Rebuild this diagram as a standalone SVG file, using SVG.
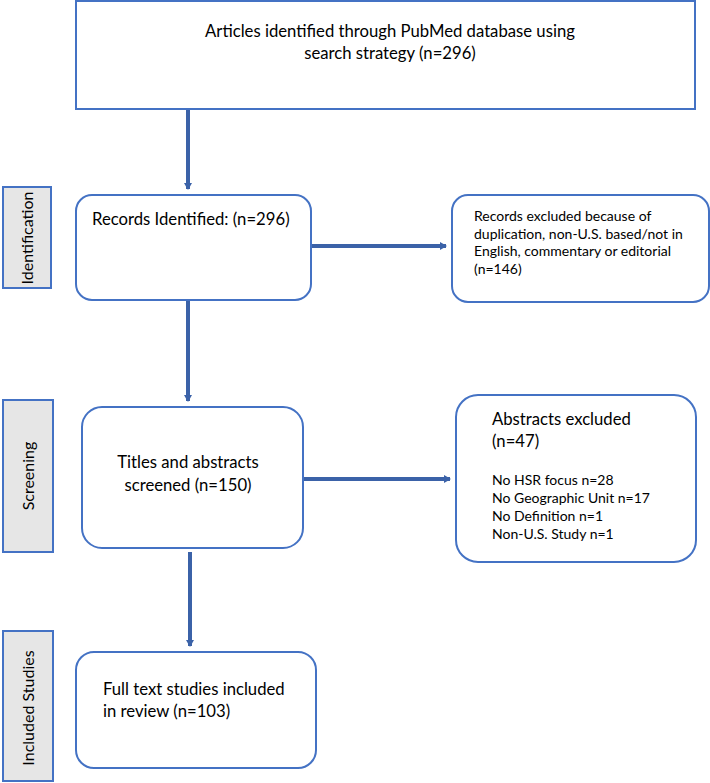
<svg xmlns="http://www.w3.org/2000/svg" width="710" height="783" viewBox="0 0 710 783">
<defs>
<marker id="ah" markerWidth="8" markerHeight="8" refX="6" refY="4" orient="auto" markerUnits="userSpaceOnUse">
<path d="M0,0 L7,4 L0,8 Z" fill="#3B62A8"/>
</marker>
</defs>
<style>
.box{fill:#fff;stroke:#4472C4;stroke-width:2}
.side{fill:#e6e6e6;stroke:#4472C4;stroke-width:2}
.t{font-family:Lato,"Liberation Sans",sans-serif;font-size:16.7px;fill:#000}
.v{font-family:Lato,"Liberation Sans",sans-serif;font-size:16px;fill:#000}
.s{font-family:Lato,"Liberation Sans",sans-serif;font-size:14px;fill:#000}
.c{stroke:#3B62A8;stroke-width:4;fill:none}
</style>
<rect width="710" height="783" fill="#fff"/>
<g id="top">
<rect class="box" x="76" y="1" width="619" height="108"/>
<text class="t" x="390" y="37" text-anchor="middle">Articles identified through PubMed database using</text>
<text class="t" x="390" y="59" text-anchor="middle">search strategy (n=296)</text>
</g>
<g id="side-identification">
<rect class="side" x="3" y="187" width="48" height="101"/>
<text class="v" transform="translate(33,238) rotate(-90)" text-anchor="middle">Identification</text>
</g>
<g id="side-screening">
<rect class="side" x="3" y="400" width="50" height="152"/>
<text class="v" transform="translate(34,476) rotate(-90)" text-anchor="middle">Screening</text>
</g>
<g id="side-included">
<rect class="side" x="3" y="631" width="50" height="150"/>
<text class="v" transform="translate(34,708) rotate(-90)" text-anchor="middle">Included Studies</text>
</g>
<g id="records">
<rect class="box" x="76" y="195" width="235" height="105" rx="16"/>
<text class="t" x="92" y="225">Records Identified: (n=296)</text>
</g>
<g id="excluded1">
<rect class="box" x="452" y="195" width="257" height="107" rx="16"/>
<text class="s" x="474" y="221">Records excluded because of</text>
<text class="s" x="474" y="239">duplication, non-U.S. based/not in</text>
<text class="s" x="474" y="256">English, commentary or editorial</text>
<text class="s" x="474" y="274">(n=146)</text>
</g>
<g id="titles">
<rect class="box" x="82" y="407" width="221" height="141" rx="20"/>
<text class="t" x="188" y="468" text-anchor="middle">Titles and abstracts</text>
<text class="t" x="188" y="491" text-anchor="middle">screened (n=150)</text>
</g>
<g id="excluded2">
<rect class="box" x="456" y="395" width="240" height="167" rx="22"/>
<text class="t" x="492" y="425">Abstracts excluded</text>
<text class="t" x="492" y="447">(n=47)</text>
<text class="s" x="492" y="485">No HSR focus n=28</text>
<text class="s" x="492" y="503">No Geographic Unit n=17</text>
<text class="s" x="492" y="521">No Definition n=1</text>
<text class="s" x="492" y="539">Non-U.S. Study n=1</text>
</g>
<g id="included">
<rect class="box" x="76" y="652" width="240" height="116" rx="18"/>
<text class="t" x="103" y="695">Full text studies included</text>
<text class="t" x="103" y="717">in review (n=103)</text>
</g>
<g id="connectors">
<line class="c" x1="188" y1="110" x2="188" y2="189" marker-end="url(#ah)"/>
<line class="c" x1="188" y1="301" x2="188" y2="401" marker-end="url(#ah)"/>
<line class="c" x1="190" y1="552" x2="190" y2="646" marker-end="url(#ah)"/>
<line class="c" x1="312" y1="246" x2="446" y2="246" marker-end="url(#ah)"/>
<line class="c" x1="304" y1="479" x2="450" y2="479" marker-end="url(#ah)"/>
</g>
</svg>
